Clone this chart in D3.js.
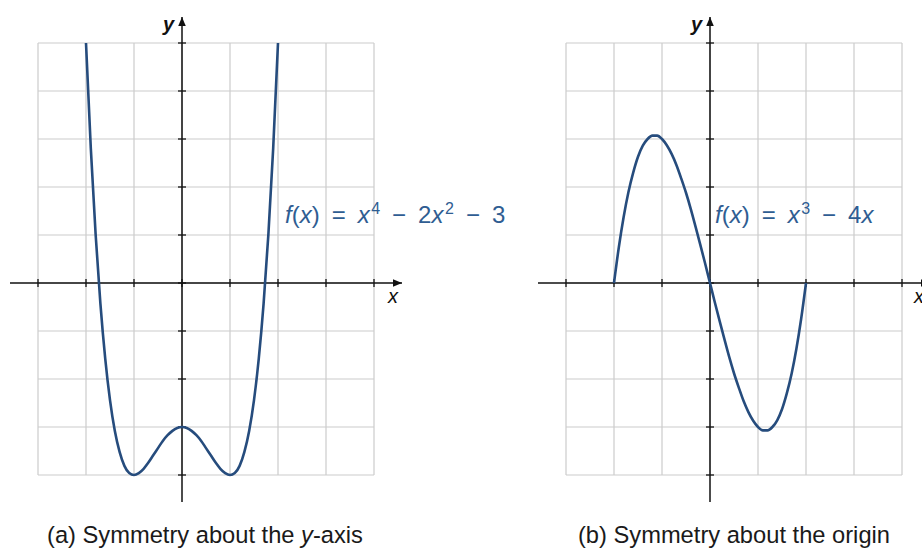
<!DOCTYPE html>
<head>
  <script src="https://d3js.org/d3.v7.min.js"></script>
  <meta charset='utf-8'>
  <style>
    body { margin: 0; background: #fff; }
    svg text { font-family: "Liberation Sans", Arial, sans-serif; }
  </style>
</head>
<body>
<div id="chart"></div>
<script>

// grid / tick values (units)
var xTicks = [-3, -2, -1, 0, 1, 2, 3, 4];
var yTicks = [-4, -3, -2, -1, 0, 1, 2, 3, 4, 5];

// (a) f(x) = x^4 - 2x^2 - 3
var evenX = [-2, -1.9, -1.8, -1.7, -1.6, -1.5, -1.4, -1.3, -1.2, -1.1, -1, -0.9, -0.8, -0.7, -0.6, -0.5, -0.4, -0.3, -0.2, -0.1, 0,
             0.1, 0.2, 0.3, 0.4, 0.5, 0.6, 0.7, 0.8, 0.9, 1, 1.1, 1.2, 1.3, 1.4, 1.5, 1.6, 1.7, 1.8, 1.9, 2];
var evenY = [5, 2.81, 1.02, -0.43, -1.57, -2.44, -3.08, -3.52, -3.81, -3.96, -4, -3.96, -3.87, -3.74, -3.59, -3.44, -3.29, -3.17, -3.08, -3.02, -3,
             -3.02, -3.08, -3.17, -3.29, -3.44, -3.59, -3.74, -3.87, -3.96, -4, -3.96, -3.81, -3.52, -3.08, -2.44, -1.57, -0.43, 1.02, 2.81, 5];

// (b) f(x) = x^3 - 4x
var oddX = evenX.slice();
var oddY = [0, 0.74, 1.37, 1.89, 2.30, 2.63, 2.86, 3.00, 3.07, 3.07, 3, 2.87, 2.69, 2.46, 2.18, 1.88, 1.54, 1.17, 0.79, 0.40, 0,
            -0.40, -0.79, -1.17, -1.54, -1.88, -2.18, -2.46, -2.69, -2.87, -3, -3.07, -3.07, -3.00, -2.86, -2.63, -2.30, -1.89, -1.37, -0.74, 0];

var curveColor = "#264c7d";
var labelColor = "#2f5d92";
var sp = "\u2002"; // en space, the formulas are set loosely

var svg = d3.select("#chart").append("svg")
    .attr("width", 922)
    .attr("height", 548);

var defs = svg.append("defs");
defs.append("marker")
    .attr("id", "arrow")
    .attr("viewBox", "0 0 10 10")
    .attr("refX", 10).attr("refY", 5)
    .attr("markerWidth", 6).attr("markerHeight", 6)
    .attr("markerUnits", "strokeWidth")
    .attr("orient", "auto")
  .append("path")
    .attr("d", "M0,0.8 L10,5 L0,9.2 Z")
    .attr("fill", "#111");

function panel(opt) {
  var x = d3.scaleLinear().domain([-3, 4]).range([opt.left, opt.left + 336]);
  var y = d3.scaleLinear().domain([-4, 5]).range([475, 43]);
  var g = svg.append("g");

  // grid
  g.selectAll(".gx").data(xTicks).join("line")
    .attr("x1", d => x(d)).attr("x2", d => x(d))
    .attr("y1", y(5)).attr("y2", y(-4))
    .attr("stroke", "#cbcbcb").attr("stroke-width", 1.2);
  g.selectAll(".gy").data(yTicks).join("line")
    .attr("y1", d => y(d)).attr("y2", d => y(d))
    .attr("x1", x(-3)).attr("x2", x(4))
    .attr("stroke", "#cbcbcb").attr("stroke-width", 1.2);

  // axes
  g.append("line")
    .attr("x1", x(-3) - 28).attr("x2", opt.xEnd)
    .attr("y1", y(0)).attr("y2", y(0))
    .attr("stroke", "#111").attr("stroke-width", 1.5)
    .attr("marker-end", "url(#arrow)");
  g.append("line")
    .attr("x1", x(0)).attr("x2", x(0))
    .attr("y1", y(-4) + 27).attr("y2", 17)
    .attr("stroke", "#111").attr("stroke-width", 1.5)
    .attr("marker-end", "url(#arrow)");

  // ticks
  g.selectAll(".tx").data(xTicks).join("line")
    .attr("x1", d => x(d)).attr("x2", d => x(d))
    .attr("y1", y(0) - 4).attr("y2", y(0) + 4)
    .attr("stroke", "#111").attr("stroke-width", 1.3);
  g.selectAll(".ty").data(yTicks).join("line")
    .attr("y1", d => y(d)).attr("y2", d => y(d))
    .attr("x1", x(0) - 4).attr("x2", x(0) + 4)
    .attr("stroke", "#111").attr("stroke-width", 1.3);

  // axis labels
  g.append("text")
    .attr("x", x(0) - 8).attr("y", 31)
    .attr("text-anchor", "end")
    .attr("font-size", 20).attr("font-weight", "bold").attr("font-style", "italic")
    .attr("fill", "#111")
    .text("y");
  g.append("text")
    .attr("x", opt.xLabel).attr("y", y(0) + 20)
    .attr("font-size", 20).attr("font-style", "italic")
    .attr("fill", "#111")
    .text("x");

  // curve
  var pts = opt.xs.map((v, i) => [v, opt.ys[i]]);
  g.append("path")
    .datum(pts)
    .attr("fill", "none")
    .attr("stroke", curveColor)
    .attr("stroke-width", 2.6)
    .attr("d", d3.line()
      .x(d => x(d[0]))
      .y(d => y(d[1]))
      .curve(d3.curveMonotoneX));

  // function label
  var t = g.append("text")
    .attr("x", opt.labelX).attr("y", 223)
    .attr("font-size", 24)
    .attr("fill", labelColor);
  opt.label.forEach(function(p) {
    var s = t.append("tspan").text(p.t);
    if (p.i) s.attr("font-style", "italic");
    if (p.sup) s.attr("font-size", 16).attr("dx", 1.5).attr("baseline-shift", "55%");
  });

  // caption
  g.append("text")
    .attr("x", opt.capX).attr("y", 543)
    .attr("text-anchor", "middle")
    .attr("font-size", 23.7)
    .attr("fill", "#1a1a1a")
    .call(function(s) {
      opt.caption.forEach(function(p) {
        var c = s.append("tspan").text(p.t);
        if (p.i) c.attr("font-style", "italic");
      });
    });
}

panel({
  left: 38, xEnd: 402, xLabel: 388,
  xs: evenX, ys: evenY,
  labelX: 285,
  label: [{t: "f", i: true}, {t: "("}, {t: "x", i: true}, {t: ")" + sp + "=" + sp}, {t: "x", i: true}, {t: "4", sup: true},
          {t: sp + "\u2212" + sp + "2"}, {t: "x", i: true}, {t: "2", sup: true}, {t: sp + "\u2212" + sp + "3"}],
  capX: 205,
  caption: [{t: "(a) Symmetry about the "}, {t: "y", i: true}, {t: "-axis"}]
});

panel({
  left: 566, xEnd: 930, xLabel: 914,
  xs: oddX, ys: oddY,
  labelX: 715,
  label: [{t: "f", i: true}, {t: "("}, {t: "x", i: true}, {t: ")" + sp + "=" + sp}, {t: "x", i: true}, {t: "3", sup: true},
          {t: sp + "\u2212" + sp + "4"}, {t: "x", i: true}],
  capX: 734,
  caption: [{t: "(b) Symmetry about the origin"}]
});

</script>
</body>
